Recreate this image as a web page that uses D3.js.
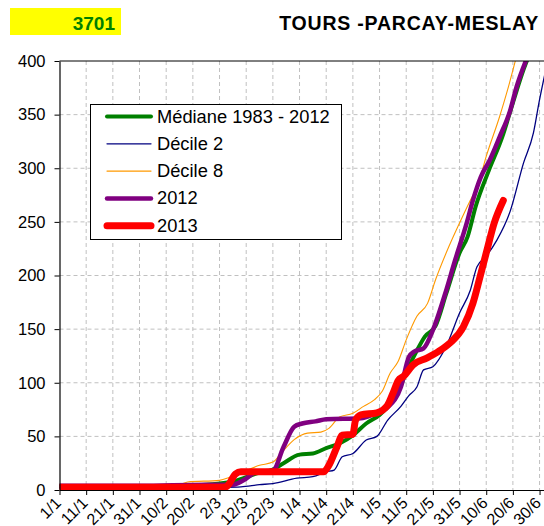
<!DOCTYPE html>
<html>
<head>
<meta charset="utf-8">
<script src="https://cdn.jsdelivr.net/npm/d3@7"></script>
<style>
  body { margin: 0; background: #fff; }
  text { font-family: "Liberation Sans", Arial, sans-serif; }
</style>
</head>
<body>
<svg id="chart" width="544" height="526"></svg>
<script>
// day index (0 = 1/1) and cumulative value
const tickLabels = ["1/1","11/1","21/1","31/1","10/2","20/2","2/3","12/3","22/3","1/4","11/4","21/4","1/5","11/5","21/5","31/5","10/6","20/6","30/6"];
const yTicks = [0, 50, 100, 150, 200, 250, 300, 350, 400];

const median = [[0,3],[20,3],[40,3.5],[55,5],[60,6],[65,8],[70,12],[74,15.5],[80,19],[84,25],[90,33],[95,34],[100,39],[105,43.5],[110,51],[115,62],[120,70],[125,84],[128,98],[131,115],[134,130],[137,143],[141,153],[145,183],[150,221],[153,236],[156,264],[161,298],[166,329],[170,361],[174,392],[176,405]];
const decile2 = [[0,2],[40,2],[60,2.5],[68,3],[75,5],[80,6],[89,11],[95,12.4],[100,17],[103,18.6],[106,31],[110,34],[115,46.6],[119,50],[123,65],[128,78],[131,88],[134,96],[136.5,112],[140,115],[145,134],[150,165],[154,186],[156.5,208],[160,218],[164,233],[169,260],[174,305],[177.7,333],[180,364],[182,388]];
const decile8 = [[0,4],[30,4.5],[45,5],[48,7.5],[60,9],[64,12],[69,17],[75,23],[80,26],[83,34],[88,47],[93,53],[98,54],[101,57.5],[105,68],[110,71.5],[114,78],[118,84],[121,92],[124,109],[127,120],[130,140],[134,162],[138,174],[141,196],[146,227],[150,249],[154,270],[157,285],[160,311],[165,348],[168,373],[171,401]];
const y2012 = [[0,4],[30,4],[55,5],[65,5],[69,9],[74,17],[80,18],[84,40],[88,59],[91,62],[96,64],[100,66],[113,67],[118,71],[123,77],[128,96],[131,124],[133,129],[136.5,132],[140,149],[144.6,183],[148.3,214],[152.7,249],[155,270],[158,292],[161.4,308],[165,329],[169,354],[171.4,376],[175,401]];
const y2013 = [[0,2.5],[30,2.5],[62,2.5],[63,4],[66,15],[68,17],[99,17],[101,23],[104,40],[106,51],[110,52],[111,65],[113,70],[119,72],[123,79],[125,90],[127,102],[129,106],[132.7,117],[137.7,123],[142,129],[146.4,137],[151.4,152],[155,174],[157.7,199],[160,221],[163,249],[166.4,270]];

const series = [
  {name: "Médiane 1983 - 2012", data: median, color: "#008000", width: 4},
  {name: "Décile 2", data: decile2, color: "#000080", width: 1.3},
  {name: "Décile 8", data: decile8, color: "#ff9900", width: 1.1},
  {name: "2012", data: y2012, color: "#800080", width: 4.5},
  {name: "2013", data: y2013, color: "#ff0000", width: 7}
];

const svg = d3.select("#chart");
const pLeft = 59.5, pRight = 545, pTop = 61, pBottom = 490;

const x = d3.scaleLinear().domain([0, 182]).range([pLeft, pLeft + 182 * 2.667]);
const y = d3.scaleLinear().domain([0, 400]).range([pBottom, pTop]);

// header
svg.append("rect").attr("x", 10).attr("y", 8).attr("width", 111).attr("height", 27).attr("fill", "#ffff00");
svg.append("text").attr("x", 115).attr("y", 30).attr("text-anchor", "end")
  .attr("font-size", 19).attr("font-weight", "bold").attr("fill", "#008000").text("3701");
svg.append("text").attr("x", 539).attr("y", 30).attr("text-anchor", "end")
  .attr("font-size", 19.5).attr("font-weight", "bold").attr("fill", "#000").attr("letter-spacing", 0.8)
  .text("TOURS -PARCAY-MESLAY");

// grid
const grid = svg.append("g").attr("stroke", "#c0c0c0").attr("stroke-dasharray", "4,3").attr("stroke-width", 1);
grid.selectAll(".gy").data(yTicks.filter(d => d > 0 && d < 400)).enter().append("line")
  .attr("x1", pLeft).attr("x2", pRight).attr("y1", d => y(d)).attr("y2", d => y(d));
grid.selectAll(".gx").data(tickLabels.map((d, i) => i * 10).filter(d => d > 0)).enter().append("line")
  .attr("x1", d => x(d)).attr("x2", d => x(d)).attr("y1", pTop).attr("y2", pBottom);

svg.append("clipPath").attr("id", "clip").append("rect")
  .attr("x", pLeft).attr("y", pTop).attr("width", pRight - pLeft).attr("height", pBottom - pTop);

const line = d3.line().x(d => x(d[0])).y(d => y(d[1])).curve(d3.curveMonotoneX);

svg.append("g").attr("clip-path", "url(#clip)")
  .selectAll("path").data(series).enter().append("path")
  .attr("d", d => line(d.data))
  .attr("fill", "none")
  .attr("stroke", d => d.color)
  .attr("stroke-width", d => d.width)
  .attr("stroke-linecap", "round")
  .attr("stroke-linejoin", "round");

// top border
svg.append("line").attr("x1", pLeft).attr("x2", pRight).attr("y1", pTop).attr("y2", pTop).attr("stroke", "#000");

// y axis
const yAxis = svg.append("g").attr("transform", `translate(${pLeft},0)`)
  .call(d3.axisLeft(y).tickValues(yTicks).tickSize(5).tickSizeOuter(0));
yAxis.select(".domain").attr("stroke", "#000").attr("stroke-width", 1.2);
yAxis.selectAll("text").attr("font-size", 16.5).attr("fill", "#000").attr("x", -14)
  .style("font-family", "Liberation Sans, Arial, sans-serif");

// x axis
const xAxis = svg.append("g").attr("transform", `translate(0,${pBottom})`)
  .call(d3.axisBottom(x).tickValues(tickLabels.map((d, i) => i * 10))
    .tickFormat((d, i) => tickLabels[i]).tickSize(5).tickSizeOuter(0));
xAxis.select(".domain").attr("stroke", "#000").attr("stroke-width", 1.2);
xAxis.selectAll("text").attr("font-size", 16).attr("fill", "#000")
  .style("font-family", "Liberation Sans, Arial, sans-serif")
  .attr("text-anchor", "end").attr("dy", null).attr("y", 0)
  .attr("transform", "translate(2,14) rotate(-45)");

// legend
const lg = svg.append("g");
lg.append("rect").attr("x", 90.5).attr("y", 104.5).attr("width", 251).attr("height", 135)
  .attr("fill", "#fff").attr("stroke", "#000").attr("stroke-width", 1);
const rows = lg.selectAll(".row").data(series).enter().append("g")
  .attr("transform", (d, i) => `translate(0,${116.5 + i * 27.3})`);
rows.append("line").attr("x1", 107).attr("x2", 151).attr("y1", 0).attr("y2", 0)
  .attr("stroke", d => d.color).attr("stroke-width", d => Math.max(d.width, 1.2)).attr("stroke-linecap", "round");
rows.append("text").attr("x", 157).attr("y", 6).attr("font-size", 18.3).attr("fill", "#000").text(d => d.name);
</script>
</body>
</html>
